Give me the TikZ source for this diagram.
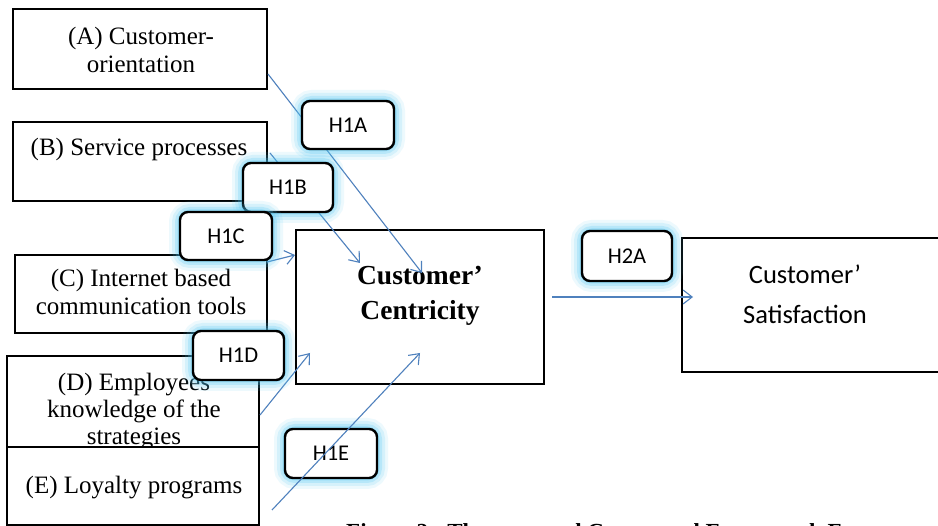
\documentclass[tikz,border=0pt]{standalone}
\usepackage{fontspec}
\setmainfont{Liberation Serif}
\newfontfamily\calibri{Carlito}
\usetikzlibrary{arrows.meta}

\definecolor{linkblue}{RGB}{79,129,189}
\definecolor{glowcyan}{RGB}{80,200,245}

% rounded hypothesis tag with a soft cyan halo: name, x, y, width, height, text
\newcommand\hypbox[6]{%
  \foreach \gw/\go in {22/0.10,16/0.15,10/0.22,5/0.32}{%
    \draw[glowcyan, line width=\gw pt, opacity=\go, rounded corners=10pt]
      ({#2-#4/2},{#3-#5/2}) rectangle ({#2+#4/2},{#3+#5/2});}
  \node[hyp, minimum width=#4, minimum height=#5] (#1) at (#2,#3) {#6};
}

\begin{document}
\begin{tikzpicture}[x=1pt, y=-1pt,
  box/.style={draw=black, line width=2.4pt, fill=white, inner sep=0pt},
  hyp/.style={draw=black, line width=2.4pt, fill=white, rounded corners=8pt,
              inner sep=0pt, font=\calibri\fontsize{22.5}{24}\selectfont},
  boxtext/.style={align=center, inner sep=0pt, font=\fontsize{25}{28}\selectfont},
  link/.style={draw=linkblue, line width=1.1pt,
               -{Straight Barb[length=9pt,width=14pt,line width=1.1pt]}}]

\useasboundingbox (0,0) rectangle (938,526);
\clip (0,0) rectangle (938,526);
\fill[white] (0,0) rectangle (938,526);

% factor boxes
\node[box, minimum width=254, minimum height=80] (boxA) at (140,49) {};
\node[boxtext] (txtA) at (141,50) {(A) Customer-\\orientation};

\node[box, minimum width=254, minimum height=79] (boxB) at (140,161.5) {};
\node[boxtext] (txtB) at (139,149) {(B) Service processes};

\node[box, minimum width=252, minimum height=78] (boxC) at (141,294) {};
\node[boxtext] (txtC) at (141,292) {(C) Internet based\\communication tools};

\node[box, minimum width=252, minimum height=91] (boxD) at (133,401.5) {};
\node[boxtext, font=\fontsize{25}{27}\selectfont] (txtD) at (134,412)
  {(D) Employees\\knowledge of the\\strategies};

\node[box, minimum width=252, minimum height=78] (boxE) at (133,486) {};
\node[boxtext] (txtE) at (134,488) {(E) Loyalty programs};

% central construct and outcome
\node[box, minimum width=248, minimum height=154] (centr) at (420,307) {};
\node[boxtext, font=\bfseries\fontsize{27.5}{35}\selectfont] (txtCentr) at (420,296)
  {Customer’\\Centricity};

\node[box, minimum width=263, minimum height=134] (satis) at (813.5,305) {};
\node[boxtext, font=\calibri\fontsize{26.5}{40}\selectfont] (txtSatis) at (805,294)
  {Customer’\\Satisfaction};

% connector end points
\coordinate (a0) at (268,74);   \coordinate (a1) at (422,273);
\coordinate (b0) at (270,153);  \coordinate (b1) at (360,263);
\coordinate (c0) at (267,262);  \coordinate (c1) at (295,255);
\coordinate (d0) at (260,415);  \coordinate (d1) at (310,353);
\coordinate (e0) at (272,510);  \coordinate (e1) at (420,353);
\coordinate (s0) at (552,297);  \coordinate (s1) at (693,297);

\draw[link] (a0) -- (a1);
\draw[link] (b0) -- (b1);
\draw[link] (c0) -- (c1);
\draw[link] (d0) -- (d1);
\draw[link] (s0) -- (s1);

% hypothesis tags
\hypbox{h1a}{348}{125}{92}{48}{H1A}
\hypbox{h1b}{288}{187.5}{90}{49}{H1B}
\hypbox{h1c}{226}{236}{92}{48}{H1C}
\hypbox{h1d}{238.5}{355.5}{91}{49}{H1D}
\hypbox{h1e}{331}{453.5}{92}{49}{H1E}
\hypbox{h2a}{627}{256}{90}{50}{H2A}

\draw[link] (e0) -- (e1);

% caption, running off the lower edge
\node[anchor=base west, inner sep=0pt, font=\bfseries\fontsize{23}{26}\selectfont]
  (caption) at (346,540) {Figure 2:\ \ The proposed Conceptual Framework For};
\end{tikzpicture}
\end{document}
